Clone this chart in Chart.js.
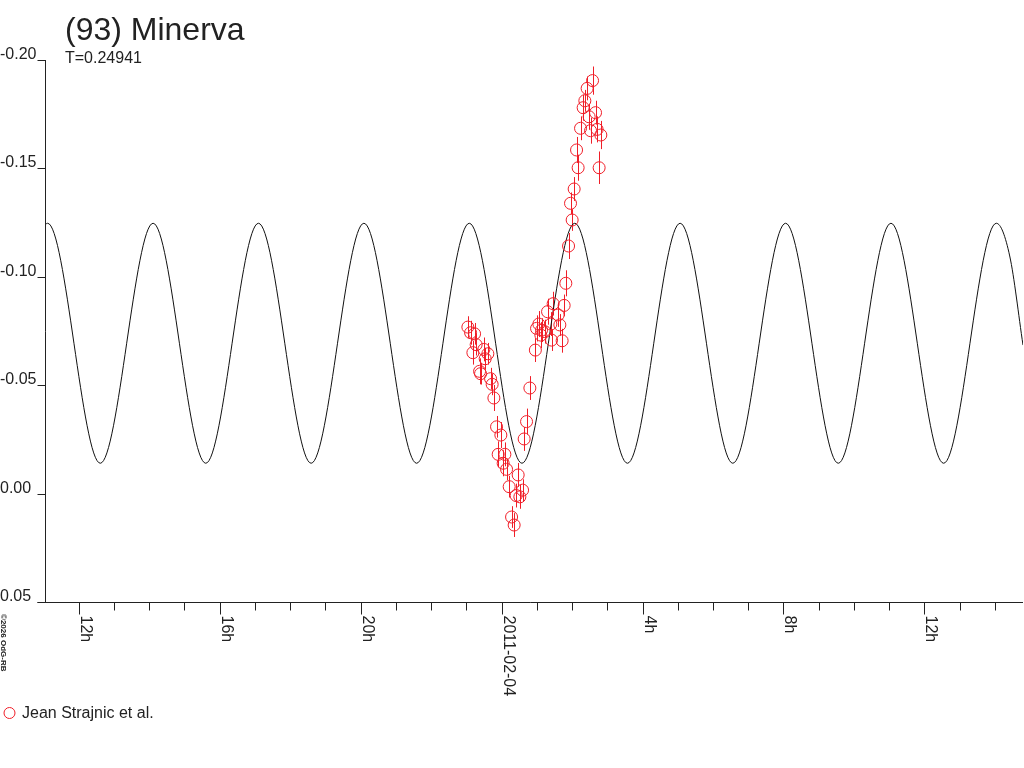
<!DOCTYPE html>
<html>
<head>
<meta charset="utf-8">
<title>(93) Minerva</title>
<script src="https://cdn.jsdelivr.net/npm/chart.js@4.4.1/dist/chart.umd.min.js"></script>
<style>
    html, body { margin: 0; padding: 0; background: #fff; overflow: hidden; }
    #wrap { width: 1024px; height: 768px; position: relative; }
</style>
</head>
<body>
<div id="wrap"><canvas id="lcChart"></canvas></div>
<script>
// hours relative to 2011-02-04 00:00, magnitudes (reversed axis)
const obsHours = [
    -0.956, -0.879, -0.766, -0.721, -0.814, -0.502, -0.389, -0.465, -0.624, -0.596,
    -0.312, -0.267, -0.218, -0.142, -0.020, -0.096, 0.094, 0.045, 0.142, 0.471,
    0.216, 0.596, 0.414, 0.519, 0.284, 0.357, 0.641, 0.709, 0.803, 0.959,
    0.993, 1.058, 1.135, 1.115, 1.228, 1.305, 1.399, 1.418, 1.464, 1.606,
    1.654, 1.719, 1.776, 1.824, 1.901, 2.003, 1.957, 2.060, 2.128, 2.173,
    2.241, 2.315, 2.363, 2.428, 2.485, 2.525, 2.582, 2.667, 2.712, 2.769,
    2.817
];
const obsValues = [
    -0.0768, -0.0742, -0.0737, -0.0687, -0.0650, -0.0665, -0.0645, -0.0622, -0.0564, -0.0553,
    -0.0530, -0.0504, -0.0441, -0.0308, -0.0270, -0.0181, -0.0181, -0.0140, -0.0112, -0.0086,
    -0.0032, -0.0016, 0.0009, 0.0015, 0.0108, 0.0145, -0.0252, -0.0332, -0.0487, -0.0662,
    -0.0762, -0.0782, -0.0754, -0.0731, -0.0747, -0.0839, -0.0782, -0.0708, -0.0876, -0.0824,
    -0.0778, -0.0705, -0.0868, -0.0970, -0.1142, -0.1262, -0.1339, -0.1405, -0.1585, -0.1503,
    -0.1685, -0.1780, -0.1812, -0.1869, -0.1738, -0.1674, -0.1905, -0.1757, -0.1680, -0.1503,
    -0.1654
];
const obsErrors = [
    0.0050, 0.0055, 0.0050, 0.0050, 0.0055, 0.0055, 0.0050, 0.0050, 0.0060, 0.0050,
    0.0050, 0.0050, 0.0060, 0.0050, 0.0060, 0.0060, 0.0055, 0.0060, 0.0050, 0.0055,
    0.0050, 0.0050, 0.0055, 0.0055, 0.0050, 0.0055, 0.0055, 0.0060, 0.0055, 0.0055,
    0.0060, 0.0060, 0.0055, 0.0060, 0.0055, 0.0060, 0.0055, 0.0050, 0.0055, 0.0055,
    0.0050, 0.0055, 0.0050, 0.0060, 0.0060, 0.0050, 0.0050, 0.0055, 0.0060, 0.0060,
    0.0055, 0.0060, 0.0050, 0.0055, 0.0060, 0.0060, 0.0065, 0.0055, 0.0060, 0.0075,
    0.0065
];

// model curve: extrema
const curveHours = [
    -12.956, -12.882, -11.387, -9.889, -8.394, -6.899, -5.404, -3.906, -2.411, -0.916,
    0.579, 2.077, 3.572, 5.067, 6.562, 8.060, 9.555, 11.050, 12.545, 14.040,
    14.420, 14.797
];
const curveValues = [
    -0.1241, -0.1247, -0.0140, -0.1247, -0.0140, -0.1247, -0.0140, -0.1247, -0.0140, -0.1247,
    -0.0140, -0.1247, -0.0140, -0.1247, -0.0140, -0.1247, -0.0140, -0.1247, -0.0140, -0.1247,
    -0.1096, -0.0685
];

const yTicks = [-0.20, -0.15, -0.10, -0.05, 0.00, 0.05];
const xMajorHours = [-12, -8, -4, 0, 4, 8, 12];
const xMajorLabels = ["12h", "16h", "20h", "2011-02-04", "4h", "8h", "12h"];
const xMinorHours = [-12, -11, -10, -9, -8, -7, -6, -5, -4, -3, -2, -1, 0, 1, 2, 3, 4, 5, 6, 7, 8, 9, 10, 11, 12, 13, 14];

const seriesLabel = "Jean Strajnic et al.";
const titleText = "(93) Minerva";
const periodText = "T=0.24941";

const RED = "rgb(240,30,40)";
const INK = "#222";
const FONT = "'Liberation Sans', Arial, sans-serif";

const obsPoints = obsHours.map((h, i) => ({ x: h, y: obsValues[i] }));
const curvePoints = curveHours.map((h, i) => ({ x: h, y: curveValues[i] }));

/* axes, error bars, texts */
const decorPlugin = {
    id: "decor",
    beforeDatasetsDraw(chart) {
        const ctx = chart.ctx;
        const xs = chart.scales.x, ys = chart.scales.y;
        ctx.save();
        ctx.strokeStyle = RED;
        ctx.lineWidth = 1;
        obsHours.forEach((h, i) => {
            const px = Math.round(xs.getPixelForValue(h)) + 0.5;
            ctx.beginPath();
            ctx.moveTo(px, ys.getPixelForValue(obsValues[i] - obsErrors[i]));
            ctx.lineTo(px, ys.getPixelForValue(obsValues[i] + obsErrors[i]));
            ctx.stroke();
        });
        ctx.restore();
    },
    afterDraw(chart) {
        const ctx = chart.ctx;
        const xs = chart.scales.x, ys = chart.scales.y;
        const a = chart.chartArea;
        ctx.save();
        ctx.strokeStyle = INK;
        ctx.fillStyle = INK;
        ctx.lineWidth = 1;

        // axis lines
        const bottom = Math.round(a.bottom) + 0.5;
        const left = Math.round(a.left) + 0.5;
        ctx.beginPath();
        ctx.moveTo(left, Math.round(a.top));
        ctx.lineTo(left, bottom);
        ctx.moveTo(left - 8, bottom);
        ctx.lineTo(Math.round(a.right), bottom);
        ctx.stroke();

        // y ticks + labels
        ctx.font = "16px " + FONT;
        ctx.textAlign = "left";
        ctx.textBaseline = "alphabetic";
        yTicks.forEach(v => {
            const py = Math.round(ys.getPixelForValue(v)) + 0.5;
            ctx.beginPath();
            ctx.moveTo(left - 8, py);
            ctx.lineTo(left, py);
            ctx.stroke();
            ctx.fillText(v.toFixed(2), 0, py - 1.5);
        });

        // x ticks
        xMinorHours.forEach(h => {
            const px = Math.round(xs.getPixelForValue(h)) + 0.5;
            const major = xMajorHours.includes(h);
            ctx.beginPath();
            ctx.moveTo(px, bottom);
            ctx.lineTo(px, bottom + (major ? 12 : 8));
            ctx.stroke();
        });
        xMajorHours.forEach((h, i) => {
            const px = Math.round(xs.getPixelForValue(h));
            ctx.save();
            ctx.translate(px + 2, bottom + 13);
            ctx.rotate(Math.PI / 2);
            ctx.fillText(xMajorLabels[i], 0, 0);
            ctx.restore();
        });

        // title
        ctx.font = "32px " + FONT;
        ctx.fillText(titleText, 65, 40);
        ctx.font = "16px " + FONT;
        ctx.fillText(periodText, 65, 63);

        // copyright
        ctx.save();
        ctx.font = "bold 8px " + FONT;
        ctx.translate(1, 614);
        ctx.rotate(Math.PI / 2);
        ctx.fillText("\u00a92026 OdG-RB", 0, 0);
        ctx.restore();

        // legend
        const ds = chart.data.datasets[1];
        ctx.strokeStyle = ds.borderColor;
        ctx.beginPath();
        ctx.arc(9.5, 713, 5.5, 0, Math.PI * 2);
        ctx.stroke();
        ctx.fillStyle = INK;
        ctx.font = "16px " + FONT;
        ctx.fillText(ds.label, 22, 718);
        ctx.restore();
    }
};

new Chart(document.getElementById("lcChart"), {
    type: "scatter",
    data: {
        datasets: [{
            label: "model",
            data: curvePoints,
            showLine: true,
            borderColor: "#111",
            borderWidth: 1,
            pointRadius: 0,
            cubicInterpolationMode: "monotone",
            order: 2
        }, {
            label: seriesLabel,
            data: obsPoints,
            showLine: false,
            pointStyle: "circle",
            pointRadius: 6,
            pointBorderWidth: 1,
            borderColor: RED,
            pointBorderColor: RED,
            backgroundColor: "rgba(0,0,0,0)",
            pointBackgroundColor: "rgba(0,0,0,0)",
            order: 1
        }]
    },
    options: {
        responsive: true,
        maintainAspectRatio: false,
        animation: false,
        events: [],
        layout: { autoPadding: false, padding: { left: 45, top: 60, right: 1, bottom: 166 } },
        scales: {
            x: { type: "linear", display: false, min: -12.956, max: 14.797 },
            y: { type: "linear", display: false, reverse: true, min: -0.20, max: 0.05 }
        },
        plugins: {
            legend: { display: false },
            tooltip: { enabled: false }
        }
    },
    plugins: [decorPlugin]
});
</script>
</body>
</html>
